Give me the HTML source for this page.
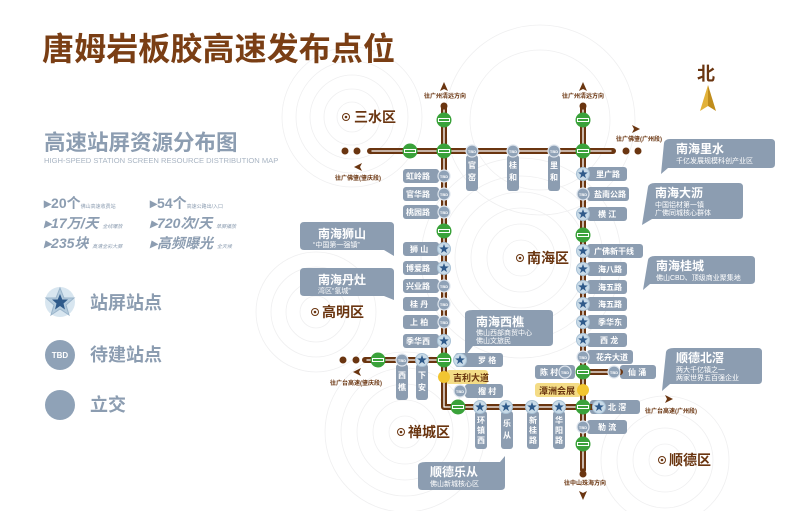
<!DOCTYPE html>
<html><head><meta charset="utf-8"><style>
html,body{margin:0;padding:0;background:#fff}
svg{display:block}
text{font-family:"Liberation Sans","Noto Sans CJK SC",sans-serif}
</style></head><body>
<svg width="800" height="511" viewBox="0 0 800 511" xmlns="http://www.w3.org/2000/svg">
<defs>
<g id="star"><circle r="6.5" fill="#c9dbe8" stroke="#a9c2d6" stroke-width="1"/><polygon points="0,-5 1.2,-1.6 4.8,-1.5 1.9,0.7 3,4.1 0,2 -3,4.1 -1.9,0.7 -4.8,-1.5 -1.2,-1.6" fill="#2f5a8a"/></g>
<g id="tbd"><circle r="6" fill="#8fa2b7" stroke="#dfe6ee" stroke-width="1.2"/><text y="1.8" font-size="4" fill="#fff" text-anchor="middle" font-weight="bold">TBD</text></g>
<g id="grn"><circle r="7.5" fill="#3aa23a"/><rect x="-6" y="-2" width="12" height="4" fill="#fff"/><rect x="-5" y="-1" width="10" height="2" fill="#3aa23a"/></g>
</defs>
<g fill="none" stroke="#efeff0" stroke-width="0.8">
<circle cx="352" cy="117" r="15"/><circle cx="352" cy="117" r="28"/><circle cx="352" cy="117" r="42"/><circle cx="352" cy="117" r="56"/><circle cx="352" cy="117" r="70"/>
<circle cx="521" cy="258" r="18"/><circle cx="521" cy="258" r="34"/><circle cx="521" cy="258" r="50"/><circle cx="521" cy="258" r="66"/><circle cx="521" cy="258" r="82"/><circle cx="521" cy="258" r="100"/>
<circle cx="316" cy="312" r="16"/><circle cx="316" cy="312" r="30"/><circle cx="316" cy="312" r="45"/><circle cx="316" cy="312" r="60"/>
<circle cx="405" cy="432" r="16"/><circle cx="405" cy="432" r="32"/><circle cx="405" cy="432" r="48"/><circle cx="405" cy="432" r="64"/><circle cx="405" cy="432" r="80"/>
<circle cx="665" cy="460" r="16"/><circle cx="665" cy="460" r="32"/><circle cx="665" cy="460" r="48"/><circle cx="665" cy="460" r="64"/>
<circle cx="540" cy="120" r="70"/><circle cx="540" cy="120" r="95"/>
</g>
<text x="42" y="60" font-size="32" font-weight="bold" fill="#7a3e14" textLength="353">唐姆岩板胶高速发布点位</text>
<text x="44" y="150" font-size="21.5" font-weight="bold" fill="#8c9db1">高速站屏资源分布图</text>
<text x="44" y="163" font-size="7.6" fill="#a9b5c3">HIGH-SPEED STATION SCREEN RESOURCE DISTRIBUTION MAP</text>
<g fill="#8c9db1" font-weight="bold">
<text x="44" y="208" font-size="14">▸20个<tspan font-size="5" font-weight="normal">佛山高速收费站</tspan></text>
<text x="150" y="208" font-size="14">▸54个<tspan font-size="5" font-weight="normal">高速公路出/入口</tspan></text>
<text x="44" y="228" font-size="14" font-style="italic">▸17万/天 <tspan font-size="5" font-weight="normal">全线曝放</tspan></text>
<text x="150" y="228" font-size="14" font-style="italic">▸720次/天 <tspan font-size="5" font-weight="normal">单屏播放</tspan></text>
<text x="44" y="248" font-size="14" font-style="italic">▸235块 <tspan font-size="5" font-weight="normal">高清全彩大屏</tspan></text>
<text x="150" y="248" font-size="14" font-style="italic">▸高频曝光 <tspan font-size="5" font-weight="normal">全天候</tspan></text>
</g>
<g transform="translate(60,302)"><circle r="15" fill="#d8e6f0"/><polygon points="0,-14 4,-4 14,-4 6,3 9,13 0,7 -9,13 -6,3 -14,-4 -4,-4" fill="#b4cbdd" stroke="#9ab4ca"/><polygon points="0,-8 2.3,-2.5 8,-2.5 3.5,1.5 5,7.5 0,4 -5,7.5 -3.5,1.5 -8,-2.5 -2.3,-2.5" fill="#2f5a8a"/></g>
<text x="90" y="309" font-size="18" font-weight="bold" fill="#8c9db1">站屏站点</text>
<circle cx="60" cy="355" r="15" fill="#8fa2b7"/><text x="60" y="358" font-size="8" font-weight="bold" fill="#fff" text-anchor="middle">TBD</text>
<text x="90" y="361" font-size="18" font-weight="bold" fill="#8c9db1">待建站点</text>
<circle cx="60" cy="405" r="15" fill="#8fa2b7"/>
<text x="90" y="411" font-size="18" font-weight="bold" fill="#8c9db1">立交</text>
<text x="697" y="80" font-size="18" font-weight="bold" fill="#6a3510">北</text>
<polygon points="708,85 700,111 708,106" fill="#e2b23a"/><polygon points="708,85 716,111 708,106" fill="#c08d1c"/>
<g font-weight="bold" fill="#6a3510" font-size="14">
<circle cx="346" cy="117" r="3.5" fill="none" stroke="#6a3510"/><circle cx="346" cy="117" r="1.3"/><text x="354" y="122">三水区</text>
<circle cx="520" cy="258" r="3.5" fill="none" stroke="#6a3510"/><circle cx="520" cy="258" r="1.3"/><text x="527" y="263">南海区</text>
<circle cx="315" cy="312" r="3.5" fill="none" stroke="#6a3510"/><circle cx="315" cy="312" r="1.3"/><text x="322" y="317">高明区</text>
<circle cx="401" cy="432" r="3.5" fill="none" stroke="#6a3510"/><circle cx="401" cy="432" r="1.3"/><text x="408" y="437">禅城区</text>
<circle cx="662" cy="460" r="3.5" fill="none" stroke="#6a3510"/><circle cx="662" cy="460" r="1.3"/><text x="669" y="465">顺德区</text>
</g>
<g fill="#8c9db1">
<path d="M304,222 H390 Q394,222 394,226 V256 L384,250 H304 Q300,250 300,246 V226 Q300,222 304,222Z"/>
<path d="M304,268 H390 Q394,268 394,272 V300 L384,296 H304 Q300,296 300,292 V272 Q300,268 304,268Z"/>
<path d="M473,310 H549 Q553,310 553,314 V342 Q553,346 549,346 H473 L465,356 V314 Q465,310 473,310Z"/>
<path d="M426,462 H500 L505,456 V486 Q505,490 501,490 H422 Q418,490 418,486 V466 Q418,462 426,462Z"/>
<path d="M670,139 H771 Q775,139 775,143 V164 Q775,168 771,168 H668 L661,174 L664,143 Q665,139 670,139Z"/>
<path d="M655,183 H739 Q743,183 743,187 V215 Q743,219 739,219 H652 L642,225 L648,187 Q649,183 655,183Z"/>
<path d="M655,256 H751 Q755,256 755,260 V280 Q755,284 751,284 H650 L643,290 L648,260 Q649,256 655,256Z"/>
<path d="M674,348 H758 Q762,348 762,352 V380 Q762,384 758,384 H670 L662,391 L666,352 Q667,348 674,348Z"/>
</g>
<g fill="#fff">
<text x="318" y="238" font-size="12" font-weight="bold">南海狮山</text><text x="313" y="247" font-size="7">“中国第一强镇”</text>
<text x="318" y="284" font-size="12" font-weight="bold">南海丹灶</text><text x="318" y="293" font-size="7">湾区“氢城”</text>
<text x="476" y="326" font-size="12" font-weight="bold">南海西樵</text><text x="476" y="335" font-size="7">佛山西部商贸中心</text><text x="476" y="343" font-size="7">佛山文旅民</text>
<text x="430" y="476" font-size="12" font-weight="bold">顺德乐从</text><text x="430" y="486" font-size="7">佛山新城核心区</text>
<text x="676" y="153" font-size="12" font-weight="bold">南海里水</text><text x="676" y="163" font-size="7">千亿发展规模科创产业区</text>
<text x="655" y="197" font-size="12" font-weight="bold">南海大沥</text><text x="655" y="207" font-size="7">中国铝材第一镇</text><text x="655" y="215" font-size="7">广佛同城核心群体</text>
<text x="656" y="270" font-size="12" font-weight="bold">南海桂城</text><text x="656" y="280" font-size="7">佛山CBD、顶级商业聚集地</text>
<text x="676" y="362" font-size="12" font-weight="bold">顺德北滘</text><text x="676" y="372" font-size="7">两大千亿镇之一</text><text x="676" y="380" font-size="7">两家世界五百强企业</text>
</g>
<g fill="#8c9db1">
<rect x="403" y="169" width="36" height="14" rx="3"/><rect x="403" y="187" width="36" height="14" rx="3"/><rect x="403" y="205" width="36" height="14" rx="3"/>
<rect x="403" y="242" width="36" height="14" rx="3"/><rect x="403" y="261" width="36" height="14" rx="3"/><rect x="403" y="279" width="36" height="14" rx="3"/><rect x="403" y="297" width="36" height="14" rx="3"/><rect x="403" y="315" width="36" height="14" rx="3"/><rect x="403" y="334" width="36" height="14" rx="3"/>
<rect x="455" y="353" width="48" height="14" rx="3"/><rect x="465" y="384" width="38" height="14" rx="3"/>
<rect x="466" y="155" width="12" height="36" rx="3"/><rect x="507" y="155" width="12" height="36" rx="3"/><rect x="548" y="155" width="12" height="36" rx="3"/>
<rect x="587" y="167" width="40" height="14" rx="3"/><rect x="587" y="187" width="42" height="14" rx="3"/><rect x="587" y="207" width="40" height="14" rx="3"/>
<rect x="587" y="244" width="56" height="14" rx="3"/><rect x="587" y="262" width="40" height="14" rx="3"/><rect x="587" y="280" width="40" height="14" rx="3"/><rect x="587" y="297" width="40" height="14" rx="3"/><rect x="587" y="315" width="40" height="14" rx="3"/><rect x="587" y="333" width="40" height="14" rx="3"/><rect x="587" y="350" width="46" height="14" rx="3"/>
<rect x="535" y="365" width="40" height="14" rx="3"/><rect x="620" y="365" width="36" height="14" rx="3"/>
<rect x="590" y="400" width="50" height="14" rx="3"/><rect x="587" y="420" width="40" height="14" rx="3"/>
<rect x="396" y="364" width="12" height="36" rx="3"/><rect x="416" y="364" width="12" height="36" rx="3"/>
<rect x="475" y="411" width="12" height="38" rx="3"/><rect x="501" y="411" width="12" height="38" rx="3"/><rect x="527" y="411" width="12" height="38" rx="3"/><rect x="553" y="411" width="12" height="38" rx="3"/>
</g>
<rect x="446" y="370" width="42" height="14" rx="3" fill="#f4dc86"/><text x="453" y="381" font-size="9" font-weight="bold" fill="#6a3510">吉利大道</text>
<rect x="535" y="383" width="46" height="14" rx="3" fill="#f4dc86"/><text x="539" y="394" font-size="9" font-weight="bold" fill="#6a3510">潭洲会展</text>
<g fill="#fff" font-size="8" font-weight="bold">
<text x="406" y="179">虹岭路</text><text x="406" y="197">官华路</text><text x="406" y="215">桃园路</text>
<text x="410" y="252">狮 山</text><text x="406" y="271">博爱路</text><text x="406" y="289">兴业路</text><text x="410" y="307">桂 丹</text><text x="410" y="325">上 柏</text><text x="406" y="344">季华西</text>
<text x="478" y="363">罗 格</text><text x="478" y="394">榴 村</text>
<text x="596" y="177">里广路</text><text x="594" y="197">盐南公路</text><text x="598" y="217">横 江</text>
<text x="594" y="254">广佛新干线</text><text x="598" y="272">海八路</text><text x="598" y="290">海五路</text><text x="598" y="307">海五路</text><text x="598" y="325">季华东</text><text x="600" y="343">西 龙</text><text x="596" y="360">花卉大道</text>
<text x="540" y="375">陈 村</text><text x="628" y="375">仙 涌</text><text x="608" y="410">北 滘</text><text x="598" y="430">勒 流</text>
<text x="468" y="168">官</text><text x="468" y="180">窑</text><text x="509" y="168">桂</text><text x="509" y="180">和</text><text x="550" y="168">里</text><text x="550" y="180">和</text>
<text x="398" y="378">西</text><text x="398" y="390">樵</text><text x="418" y="378">下</text><text x="418" y="390">安</text>
<text x="477" y="423">环</text><text x="477" y="433">镇</text><text x="477" y="443">西</text>
<text x="503" y="426">乐</text><text x="503" y="438">从</text>
<text x="529" y="423">新</text><text x="529" y="433">桂</text><text x="529" y="443">路</text>
<text x="555" y="423">华</text><text x="555" y="433">阳</text><text x="555" y="443">路</text>
</g>
<g fill="none" stroke-linejoin="round" stroke-linecap="round">
<g stroke="#6a3510" stroke-width="6">
<path d="M370,151 H613"/><path d="M444,107 V407 H583"/><path d="M583,107 V470"/>
<path d="M365,360 H444"/><path d="M583,372 H620"/><path d="M583,407 H598"/>
</g>
<g stroke="#fff" stroke-width="1.3">
<path d="M372,151 H611"/><path d="M444,110 V407 H581"/><path d="M583,110 V468"/>
<path d="M367,360 H441"/><path d="M586,372 H618"/>
</g>
</g>
<g fill="#6a3510">
<circle cx="345" cy="151" r="3.5"/><circle cx="357" cy="151" r="3.5"/><circle cx="626" cy="151" r="3.5"/><circle cx="638" cy="151" r="3.5"/>
<circle cx="343" cy="360" r="3.5"/><circle cx="356" cy="360" r="3.5"/>
<circle cx="444" cy="106" r="3.5"/><circle cx="583" cy="106" r="3.5"/><circle cx="583" cy="474" r="3.5"/>
<polygon points="444,82 440,91 444,89 448,91"/><polygon points="583,82 579,91 583,89 587,91"/>
<polygon points="354,167 362,163 360,167 362,171"/><polygon points="640,129 632,125 634,129 632,133"/>
<polygon points="353,372 361,368 359,372 361,376"/><polygon points="673,399 665,395 667,399 665,403"/>
<polygon points="583,500 579,491 583,493 587,491"/>
</g>
<g fill="#6a3510" font-size="6" font-weight="bold">
<text x="424" y="98">往广州清远方向</text><text x="562" y="98">往广州清远方向</text>
<text x="335" y="180">往广佛肇(肇庆段)</text><text x="616" y="141">往广佛肇(广州段)</text>
<text x="330" y="385">往广台高速(肇庆段)</text><text x="645" y="413">往广台高速(广州段)</text>
<text x="564" y="485">往中山珠海方向</text>
</g>
<use href="#grn" x="410" y="151"/><use href="#grn" x="444" y="151"/><use href="#grn" x="583" y="151"/>
<use href="#grn" x="444" y="120"/><use href="#grn" x="583" y="120"/><use href="#grn" x="444" y="231"/><use href="#grn" x="583" y="235"/>
<use href="#grn" x="378" y="360"/><use href="#grn" x="444" y="360"/><use href="#grn" x="583" y="372"/>
<use href="#grn" x="458" y="407"/><use href="#grn" x="583" y="407"/><use href="#grn" x="583" y="444"/>
<use href="#tbd" x="472" y="151"/><use href="#tbd" x="513" y="151"/><use href="#tbd" x="554" y="151"/>
<use href="#tbd" x="444" y="176"/><use href="#tbd" x="444" y="194"/><use href="#tbd" x="444" y="212"/>
<use href="#star" x="444" y="249"/><use href="#star" x="444" y="268"/><use href="#tbd" x="444" y="286"/><use href="#tbd" x="444" y="304"/><use href="#tbd" x="444" y="322"/><use href="#star" x="444" y="341"/>
<use href="#star" x="460" y="360"/><use href="#tbd" x="402" y="360"/><use href="#star" x="422" y="360"/><use href="#tbd" x="460" y="391"/>
<use href="#star" x="583" y="174"/><use href="#tbd" x="583" y="194"/><use href="#star" x="583" y="214"/>
<use href="#star" x="583" y="251"/><use href="#star" x="583" y="269"/><use href="#star" x="583" y="287"/><use href="#star" x="583" y="304"/><use href="#star" x="583" y="322"/><use href="#star" x="583" y="340"/><use href="#tbd" x="583" y="357"/>
<use href="#tbd" x="565" y="372"/><use href="#tbd" x="614" y="372"/><use href="#star" x="599" y="407"/><use href="#tbd" x="583" y="427"/>
<use href="#star" x="480" y="407"/><use href="#star" x="506" y="407"/><use href="#star" x="532" y="407"/><use href="#star" x="559" y="407"/>
<circle cx="444" cy="377" r="6" fill="#f2c531"/><circle cx="583" cy="390" r="6" fill="#f2c531"/>
</svg>
</body></html>
